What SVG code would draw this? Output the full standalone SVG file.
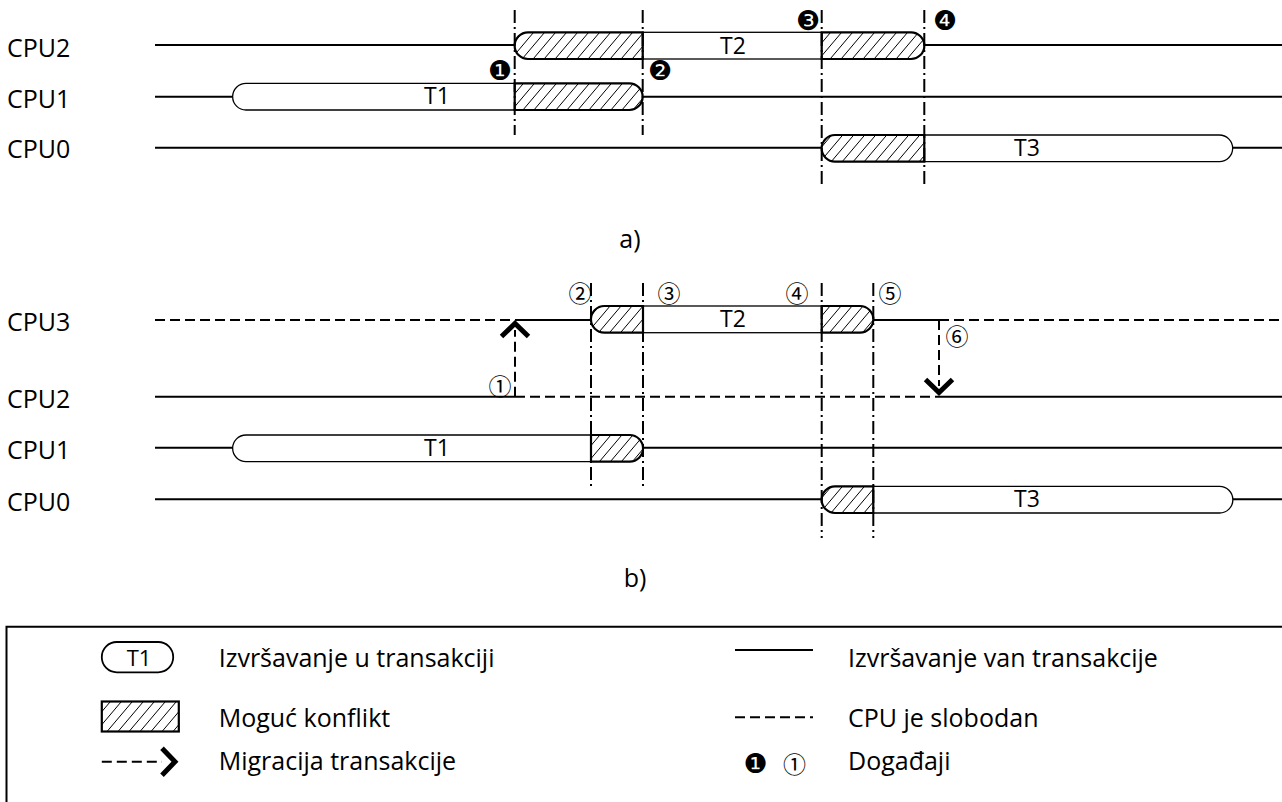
<svg xmlns="http://www.w3.org/2000/svg" width="1282" height="802" viewBox="0 0 1282 802">
<style>
  text { font-family: "Open Sans", "Noto Sans", "Liberation Sans", sans-serif; fill: #000; }
  .lbl { font-size: 25px; }
  .tl { font-size: 23px; text-anchor: middle; }
  .ev { font-family: "DejaVu Sans", sans-serif; font-size: 27px; text-anchor: middle; dominant-baseline: central; }
  .evw { font-family: "Noto Sans CJK JP", "DejaVu Sans", sans-serif; font-size: 23px; text-anchor: middle; dominant-baseline: central; }
  .run { stroke: #000; stroke-width: 2; fill: none; }
  .free { stroke: #000; stroke-width: 2; fill: none; stroke-dasharray: 10 5; }
  .tx { stroke: #000; stroke-width: 1.3; fill: #fff; }
  .hx { stroke: #000; stroke-width: 2.2; fill: url(#hatch); }
  .dd { stroke: #000; stroke-width: 2; fill: none; stroke-dasharray: 13 4 2 4; }
  .chev { stroke: #000; stroke-width: 5; fill: none; stroke-linejoin: miter; stroke-linecap: butt; }
</style>
<defs>
  <pattern id="hatch" patternUnits="userSpaceOnUse" width="11" height="13">
    <rect width="11" height="13" fill="#fff"/>
    <path d="M0,13 L11,0 M-11,13 L0,0 M11,13 L22,0" stroke="#000" stroke-width="1"/>
  </pattern>
  <path id="chevron" class="chev" d="M-13.5,13 L0,0 L13.5,13"/>
</defs>
<rect width="1282" height="802" fill="#fff"/>

<!-- ===== Part a ===== -->
<g id="a-labels">
  <text class="lbl" x="7" y="56.5">CPU2</text>
  <text class="lbl" x="7" y="108">CPU1</text>
  <text class="lbl" x="7" y="158">CPU0</text>
</g>
<g id="a-cpu2">
  <line class="run" x1="155" y1="45" x2="514.7" y2="45"/>
  <rect class="tx" x="642.7" y="32.3" width="179" height="26.7"/>
  <path class="hx" d="M528,32.3 H642.7 V59 H528 A13.35,13.35 0 0 1 528,32.3 Z"/>
  <path class="hx" d="M821.7,32.3 H911 A13.35,13.35 0 0 1 911,59 H821.7 Z"/>
  <text class="tl" x="733" y="53.5">T2</text>
  <line class="run" x1="924.3" y1="45" x2="1282" y2="45"/>
</g>
<g id="a-cpu1">
  <line class="run" x1="155" y1="96.7" x2="232.7" y2="96.7"/>
  <path class="tx" d="M246,83.3 H514.7 V110 H246 A13.35,13.35 0 0 1 246,83.3 Z"/>
  <text class="tl" x="437" y="104">T1</text>
  <path class="hx" d="M514.7,83.3 H629.3 A13.35,13.35 0 0 1 629.3,110 H514.7 Z"/>
  <line class="run" x1="642.7" y1="96.7" x2="1282" y2="96.7"/>
</g>
<g id="a-cpu0">
  <line class="run" x1="155" y1="147.7" x2="821.7" y2="147.7"/>
  <path class="tx" d="M924.3,135 H1219.3 A13.35,13.35 0 0 1 1219.3,161.7 H924.3 Z"/>
  <text class="tl" x="1027" y="156">T3</text>
  <path class="hx" d="M835,135 H924.3 V161.7 H835 A13.35,13.35 0 0 1 835,135 Z"/>
  <line class="run" x1="1232.7" y1="147.7" x2="1282" y2="147.7"/>
</g>
<g id="a-markers">
  <line class="dd" x1="514.7" y1="10" x2="514.7" y2="135"/>
  <line class="dd" x1="642.7" y1="10" x2="642.7" y2="135"/>
  <line class="dd" x1="821.7" y1="10" x2="821.7" y2="185"/>
  <line class="dd" x1="924.3" y1="10" x2="924.3" y2="185"/>
</g>
<g id="a-events">
  <text class="ev" x="500" y="70">❶</text>
  <text class="ev" x="660" y="70">❷</text>
  <text class="ev" x="808" y="20">❸</text>
  <text class="ev" x="945" y="20">❹</text>
</g>
<text id="caption-a" class="lbl" x="630" y="248" text-anchor="middle">a)</text>

<!-- ===== Part b ===== -->
<g id="b-labels">
  <text class="lbl" x="7" y="331">CPU3</text>
  <text class="lbl" x="7" y="408">CPU2</text>
  <text class="lbl" x="7" y="459">CPU1</text>
  <text class="lbl" x="7" y="511">CPU0</text>
</g>
<g id="b-cpu3">
  <line class="free" x1="155" y1="320" x2="515" y2="320"/>
  <line class="run" x1="515" y1="320" x2="591" y2="320"/>
  <rect class="tx" x="643" y="306" width="178.7" height="26.7"/>
  <path class="hx" d="M604.3,306 H643 V332.7 H604.3 A13.35,13.35 0 0 1 604.3,306 Z"/>
  <path class="hx" d="M821.7,306 H860 A13.35,13.35 0 0 1 860,332.7 H821.7 Z"/>
  <text class="tl" x="733" y="327">T2</text>
  <line class="run" x1="873.3" y1="320" x2="939" y2="320"/>
  <line class="free" x1="939" y1="320" x2="1282" y2="320"/>
</g>
<g id="b-cpu2">
  <line class="run" x1="155" y1="396.7" x2="515" y2="396.7"/>
  <line class="free" x1="515" y1="396.7" x2="939" y2="396.7"/>
  <line class="run" x1="939" y1="396.7" x2="1282" y2="396.7"/>
</g>
<g id="b-cpu1">
  <line class="run" x1="155" y1="447.7" x2="232.7" y2="447.7"/>
  <path class="tx" d="M246,435 H591 V461.7 H246 A13.35,13.35 0 0 1 246,435 Z"/>
  <text class="tl" x="437" y="456">T1</text>
  <path class="hx" d="M591,435 H629.7 A13.35,13.35 0 0 1 629.7,461.7 H591 Z"/>
  <line class="run" x1="643" y1="447.7" x2="1282" y2="447.7"/>
</g>
<g id="b-cpu0">
  <line class="run" x1="155" y1="499.3" x2="821.7" y2="499.3"/>
  <path class="tx" d="M873.3,486.3 H1219.5 A13.35,13.35 0 0 1 1219.5,513 H873.3 Z"/>
  <text class="tl" x="1027" y="507">T3</text>
  <path class="hx" d="M835,486.3 H873.3 V513 H835 A13.35,13.35 0 0 1 835,486.3 Z"/>
  <line class="run" x1="1232.8" y1="499.3" x2="1282" y2="499.3"/>
</g>
<g id="b-markers">
  <line class="dd" x1="591" y1="283" x2="591" y2="487"/>
  <line class="dd" x1="643" y1="283" x2="643" y2="487"/>
  <line class="dd" x1="821.7" y1="283" x2="821.7" y2="538"/>
  <line class="dd" x1="873.3" y1="283" x2="873.3" y2="538"/>
</g>
<g id="connectors">
  <g id="migration-up">
    <line class="free" x1="515" y1="396.7" x2="515" y2="330"/>
    <use href="#chevron" transform="translate(515,323.5)"/>
  </g>
  <g id="migration-down">
    <line class="free" x1="939" y1="320" x2="939" y2="386"/>
    <use href="#chevron" transform="translate(939,392.5) rotate(180)"/>
  </g>
</g>
<g id="b-events">
  <text class="evw" x="500" y="385">①</text>
  <text class="evw" x="580" y="292">②</text>
  <text class="evw" x="669" y="292">③</text>
  <text class="evw" x="797" y="292">④</text>
  <text class="evw" x="890" y="292">⑤</text>
  <text class="evw" x="957" y="335">⑥</text>
</g>
<text id="caption-b" class="lbl" x="635" y="587" text-anchor="middle">b)</text>

<!-- ===== Legend ===== -->
<g id="legend">
  <path d="M1283,626.7 H6.5 V803" stroke="#000" stroke-width="2" fill="none"/>
  <g id="legend-tx">
    <rect x="101.8" y="642" width="71.4" height="30.3" rx="15" ry="15" fill="#fff" stroke="#000" stroke-width="1.8"/>
    <text x="139" y="666" font-size="22" text-anchor="middle">T1</text>
    <text class="lbl" x="218.7" y="667">Izvršavanje u transakciji</text>
  </g>
  <g id="legend-conflict">
    <rect class="hx" x="101.8" y="701.5" width="77" height="30" stroke-width="1.8"/>
    <text class="lbl" x="218.7" y="726.5">Moguć konflikt</text>
  </g>
  <g id="legend-migration">
    <line class="free" x1="101.8" y1="761.7" x2="162" y2="761.7" stroke-dasharray="10 5"/>
    <use href="#chevron" transform="translate(175,761.7) rotate(90)"/>
    <text class="lbl" x="218.7" y="770">Migracija transakcije</text>
  </g>
  <g id="legend-run">
    <line class="run" x1="735" y1="650" x2="813" y2="650"/>
    <text class="lbl" x="848" y="667">Izvršavanje van transakcije</text>
  </g>
  <g id="legend-free">
    <line class="free" x1="735" y1="717.3" x2="813" y2="717.3" stroke-dasharray="11.6 5"/>
    <text class="lbl" x="848" y="726.5">CPU je slobodan</text>
  </g>
  <g id="legend-events">
    <text class="ev" x="755.6" y="763">❶</text>
    <text class="evw" x="794.6" y="763">①</text>
    <text class="lbl" x="848" y="770">Događaji</text>
  </g>
</g>
</svg>
